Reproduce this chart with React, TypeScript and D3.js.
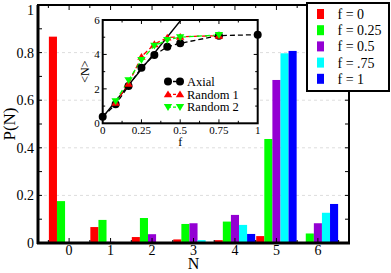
import React from "react";
import * as d3 from "d3";

const categories = [0, 1, 2, 3, 4, 5, 6];
const seriesNames = ["f = 0", "f = 0.25", "f = 0.5", "f = .75", "f = 1"];
const seriesColors = ["#ff0000", "#00ff00", "#9400d3", "#00ffff", "#0000ff"];
const pF0 = [0.867, 0.067, 0.025, 0.015, 0.012, 0.029, 0.0];
const pF025 = [0.176, 0.097, 0.105, 0.08, 0.09, 0.437, 0.04];
const pF05 = [0.003, 0.005, 0.037, 0.083, 0.118, 0.685, 0.083];
const pF075 = [0.0, 0.0, 0.0, 0.012, 0.076, 0.797, 0.127];
const pF1 = [0.0, 0.0, 0.0, 0.0, 0.038, 0.807, 0.164];
const seriesValues = [pF0, pF025, pF05, pF075, pF1];
const yTicks = [0, 0.2, 0.4, 0.6, 0.8, 1];

// inset
const insetF = [0, 0.0833, 0.1667, 0.25, 0.3333, 0.4167, 0.5, 0.75, 1];
const axialN = [0.38, 1.1, 2.17, 3.23, 3.97, 4.44, 4.65, 5.09, 5.15];
const rand1F = [0.0833, 0.1667, 0.25, 0.3333, 0.4167, 0.5, 0.75];
const rand1N = [1.2, 2.3, 3.87, 4.6, 4.98, 5.03, 5.09];
const rand2N = [1.28, 2.5, 3.68, 4.5, 4.84, 5.0, 5.13];
const lineF = [0, 0.505];
const lineN = [0.35, 6];
const insetXTicks = [0, 0.25, 0.5, 0.75, 1];
const insetYTicks = [0, 2, 4, 6];

const FONT = "'Liberation Serif', 'DejaVu Serif', serif";

export default function App() {
  const W = 391, H = 273;
  const L = 38, R = 349, T = 5, B = 243;
  const x = d3.scaleLinear().domain([-0.75, 6.75]).range([L, R]);
  const y = d3.scaleLinear().domain([0, 1]).range([B, T]);
  const barW = x(0.195) - x(0);
  const nS = seriesValues.length;

  const iL = 102.7, iR = 257.7, iT = 20, iB = 123.3;
  const ix = d3.scaleLinear().domain([0, 1]).range([iL, iR]);
  const iy = d3.scaleLinear().domain([0, 6]).range([iB, iT]);
  const line = d3.line<[number, number]>().x(d => ix(d[0])).y(d => iy(d[1]));
  const axialPts = insetF.map((f, i) => [f, axialN[i]] as [number, number]);
  const r1Pts = rand1F.map((f, i) => [f, rand1N[i]] as [number, number]);
  const r2Pts = rand1F.map((f, i) => [f, rand2N[i]] as [number, number]);
  const solidPts = lineF.map((f, i) => [f, lineN[i]] as [number, number]);

  const tri = (cx: number, cy: number, s: number, up: boolean) => {
    const h = s * 0.9;
    return up
      ? `M${cx},${cy - h} L${cx + s},${cy + h * 0.8} L${cx - s},${cy + h * 0.8} Z`
      : `M${cx},${cy + h} L${cx + s},${cy - h * 0.8} L${cx - s},${cy - h * 0.8} Z`;
  };

  const halfTicks = d3.range(-0.5, 7, 0.5);
  const yMinor = d3.range(0.1, 1, 0.1);
  const iXMinor = d3.range(0.125, 1, 0.125);
  const iYMinor = d3.range(1, 6, 1);

  return (
    <svg width={W} height={H} style={{ position: "absolute", left: 0, top: 0 }} fontFamily={FONT}>
      <rect width={W} height={H} fill="white" />
      {/* grid */}
      {yTicks.slice(1, -1).map(t => (
        <line key={"g" + t} x1={L} x2={R} y1={y(t)} y2={y(t)} stroke="#dddddd" strokeWidth={1} strokeDasharray="3,3" />
      ))}
      {/* bars */}
      {seriesValues.map((vals, s) =>
        vals.map((v, i) => {
          const x0 = x(categories[i]) + (s - nS / 2) * barW;
          return v > 0 ? (
            <rect key={`b${s}-${i}`} x={x0} y={y(v)} width={barW} height={B - y(v)} fill={seriesColors[s]} />
          ) : null;
        })
      )}
      {/* ticks */}
      {halfTicks.map(t => (
        <g key={"xt" + t}>
          <line x1={x(t)} x2={x(t)} y1={B} y2={B - (Number.isInteger(t) ? 5 : 3)} stroke="black" />
          <line x1={x(t)} x2={x(t)} y1={T} y2={T + (Number.isInteger(t) ? 5 : 3)} stroke="black" />
        </g>
      ))}
      {yMinor.map(t => (
        <g key={"yt" + t}>
          <line x1={L} x2={L + 4} y1={y(t)} y2={y(t)} stroke="black" />
          <line x1={R} x2={R - 4} y1={y(t)} y2={y(t)} stroke="black" />
        </g>
      ))}
      {/* frame */}
      <rect x={L} y={T} width={R - L} height={B - T} fill="none" stroke="black" strokeWidth={2} />
      <line x1={L} x2={L} y1={T} y2={B + 1} stroke="black" strokeWidth={3} />
      <line x1={L - 1} x2={R + 1} y1={B} y2={B} stroke="black" strokeWidth={3} />
      {/* labels */}
      {yTicks.map(t => (
        <text key={"yl" + t} x={L - 4} y={Math.max(y(t), 10)} dy="0.35em" textAnchor="end" fontSize={14}>{t}</text>
      ))}
      {categories.map(c => (
        <text key={"xl" + c} x={x(c)} y={B + 12} textAnchor="middle" fontSize={14}>{c}</text>
      ))}
      <text x={(L + R) / 2} y={B + 26} textAnchor="middle" fontSize={16}>N</text>
      <text transform={`translate(15,${(T + B) / 2}) rotate(-90)`} textAnchor="middle" fontSize={17}>P(N)</text>

      {/* inset */}
      <rect x={iL} y={iT} width={iR - iL} height={iB - iT} fill="white" stroke="black" strokeWidth={2} />
      {iXMinor.map(t => (
        <g key={"ixt" + t}>
          <line x1={ix(t)} x2={ix(t)} y1={iB} y2={iB - (t % 0.25 === 0 ? 4 : 2.5)} stroke="black" />
          <line x1={ix(t)} x2={ix(t)} y1={iT} y2={iT + (t % 0.25 === 0 ? 4 : 2.5)} stroke="black" />
        </g>
      ))}
      {iYMinor.map(t => (
        <g key={"iyt" + t}>
          <line x1={iL} x2={iL + (t % 2 === 0 ? 4 : 2.5)} y1={iy(t)} y2={iy(t)} stroke="black" />
          <line x1={iR} x2={iR - (t % 2 === 0 ? 4 : 2.5)} y1={iy(t)} y2={iy(t)} stroke="black" />
        </g>
      ))}
      {insetXTicks.map(t => (
        <text key={"ixl" + t} x={ix(t)} y={iB + 10.5} textAnchor="middle" fontSize={11}>{t}</text>
      ))}
      {insetYTicks.map(t => (
        <text key={"iyl" + t} x={iL - 3} y={iy(t)} dy="0.35em" textAnchor="end" fontSize={11}>{t}</text>
      ))}
      <text x={(iL + iR) / 2} y={iB + 23} textAnchor="middle" fontSize={12}>f</text>
      <text transform={`translate(89,${(iT + iB) / 2}) rotate(-90)`} textAnchor="middle" fontSize={12}>&lt;N&gt;</text>

      <path d={line(solidPts) || ""} fill="none" stroke="black" strokeWidth={1.3} />
      <path d={line(axialPts) || ""} fill="none" stroke="black" strokeWidth={1.3} strokeDasharray="5,3" />
      <path d={line(r1Pts) || ""} fill="none" stroke="#ff0000" strokeWidth={1.3} strokeDasharray="5,3" />
      <path d={line(r2Pts) || ""} fill="none" stroke="#00ff00" strokeWidth={1.3} strokeDasharray="5,3" />
      {axialPts.map((p, i) => (
        <circle key={"ac" + i} cx={ix(p[0])} cy={iy(p[1])} r={4} fill="black" />
      ))}
      {r1Pts.map((p, i) => (
        <path key={"r1" + i} d={tri(ix(p[0]), iy(p[1]), 4.2, true)} fill="#ff0000" />
      ))}
      {r2Pts.map((p, i) => (
        <path key={"r2" + i} d={tri(ix(p[0]), iy(p[1]), 4.2, false)} fill="#00ff00" />
      ))}
      {/* inset legend */}
      {["Axial", "Random 1", "Random 2"].map((name, i) => {
        const ly = 81.5 + i * 12.8;
        const col = ["black", "#ff0000", "#00ff00"][i];
        return (
          <g key={"il" + name}>
            <line x1={168} x2={180} y1={ly} y2={ly} stroke={col} strokeWidth={1.3} strokeDasharray="3,2" />
            {[168, 180].map(cx =>
              i === 0 ? (
                <circle key={cx} cx={cx} cy={ly} r={4} fill="black" />
              ) : (
                <path key={cx} d={tri(cx, ly, 4.2, i === 1)} fill={col} />
              )
            )}
            <text x={187} y={ly} dy="0.35em" fontSize={12.5}>{name}</text>
          </g>
        );
      })}

      {/* main legend */}
      <rect x={307} y={3} width={82} height={88} fill="white" stroke="black" strokeWidth={2} />
      {seriesNames.map((name, i) => {
        const ly = 14 + i * 16.2;
        return (
          <g key={"lg" + name}>
            <rect x={317} y={ly - 5} width={7} height={10} fill={seriesColors[i]} />
            <text x={337.5} y={ly} dy="0.35em" fontSize={14}>{name}</text>
          </g>
        );
      })}
    </svg>
  );
}
